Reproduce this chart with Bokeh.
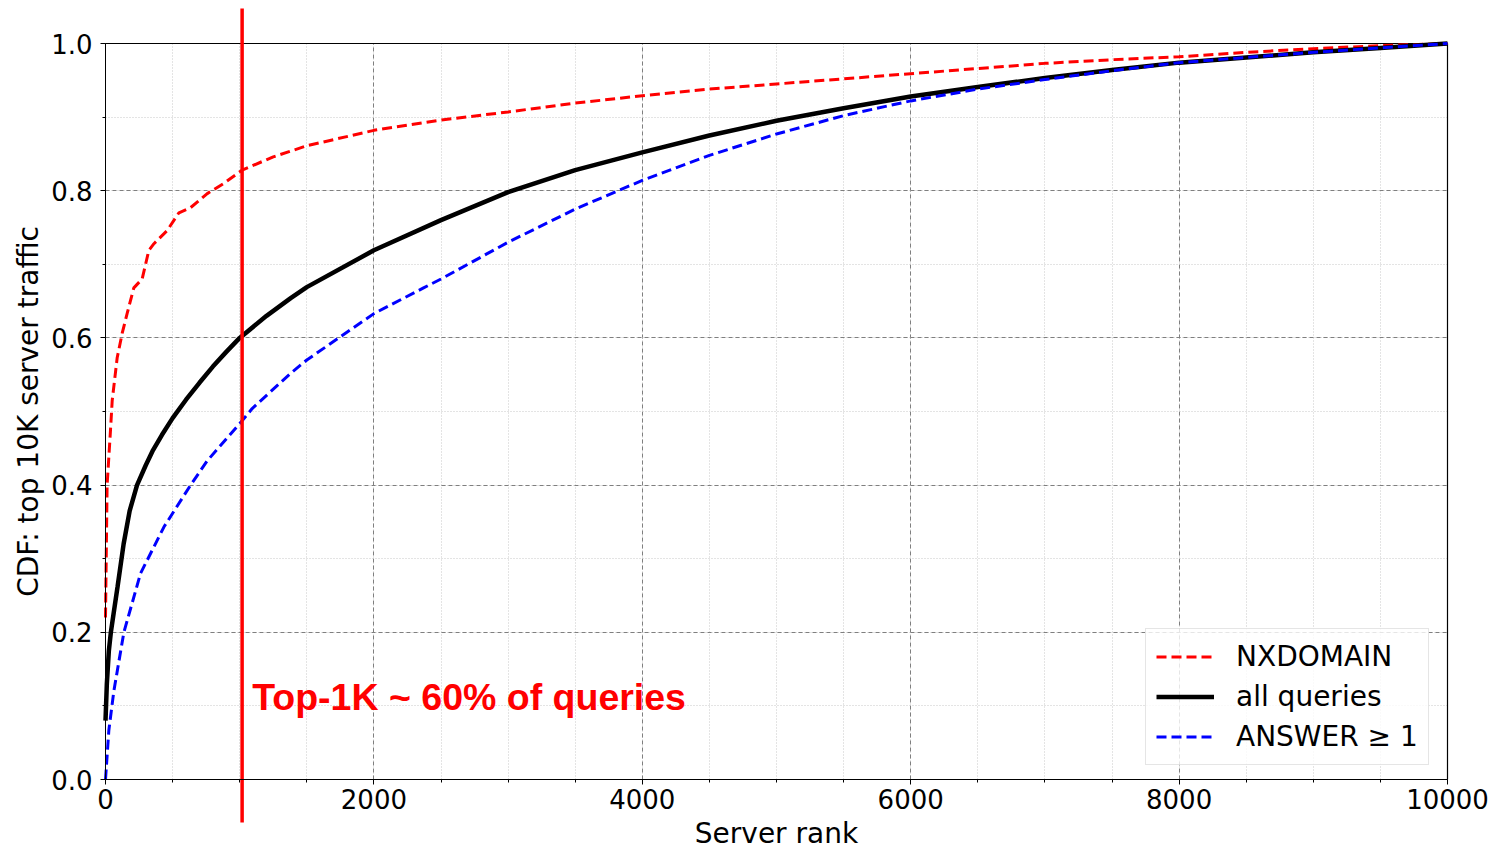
from bokeh.plotting import figure
from bokeh.models import (Range1d, Label, SingleIntervalTicker, PrintfTickFormatter, Legend)
from bokeh.embed import file_html
from bokeh.resources import INLINE

# ---- data ----
nx_rank = [0, 12, 37, 50, 87, 124, 161, 211, 273, 323, 361, 460, 547, 634, 758, 882, 1018,
           1250, 1500, 2000, 2500, 3000, 3500, 4000, 4500, 5000, 5500, 6000, 6500, 7000,
           7500, 8000, 8500, 9000, 9500, 10000]
nx_cdf = [0.22, 0.40, 0.474, 0.515, 0.573, 0.606, 0.633, 0.668, 0.68, 0.719, 0.728, 0.746,
          0.77, 0.777, 0.796, 0.81, 0.828, 0.846, 0.861, 0.882, 0.896, 0.907, 0.919, 0.929,
          0.938, 0.945, 0.952, 0.959, 0.966, 0.973, 0.978, 0.982, 0.988, 0.993, 0.997, 1.0]

all_rank = [0, 10, 25, 40, 60, 90, 135, 180, 235, 300, 350, 420, 500, 600, 700, 800, 900,
            1000, 1200, 1380, 1500, 2000, 2500, 3000, 3500, 4000, 4500, 5000, 5500, 6000,
            6500, 7000, 7500, 8000, 8500, 9000, 9500, 10000]
all_cdf = [0.08, 0.13, 0.175, 0.2, 0.225, 0.262, 0.32, 0.365, 0.40, 0.427, 0.446, 0.468, 0.491,
           0.516, 0.539, 0.561, 0.581, 0.60, 0.63, 0.654, 0.669, 0.719, 0.760, 0.798, 0.828,
           0.852, 0.875, 0.895, 0.912, 0.928, 0.941, 0.953, 0.964, 0.974, 0.981, 0.988,
           0.994, 1.0]

ans_rank = [0, 25, 62, 137, 261, 435, 634, 758, 1021, 1093, 1380, 1500, 2000, 2370, 2500, 3000,
            3500, 4000, 4500, 5000, 5500, 6000, 6500, 7000, 7500, 8000, 8500, 9000, 9500, 10000]
ans_cdf = [0.0, 0.067, 0.12, 0.2, 0.28, 0.343, 0.40, 0.433, 0.488, 0.504, 0.552, 0.57, 0.633,
           0.668, 0.68, 0.73, 0.775, 0.814, 0.848, 0.877, 0.902, 0.922, 0.938, 0.951, 0.963,
           0.974, 0.981, 0.988, 0.994, 1.0]

cutoff_rank = 1018
annotation = "Top-1K ~ 60% of queries"
x_label = "Server rank"
y_label = "CDF: top 10K server traffic"

x_min, x_max = 0, 10000
y_min, y_max = 0.0, 1.0

FONT = "DejaVu Sans"

# The whole canvas is the plotting frame; the axes are pinned at x=0 / y=0 so the
# axes box sits inside it and the cutoff line can stick out of the box.
W, H = 1497, 848
BOX_L, BOX_R, BOX_T, BOX_B = 105, 1447, 43, 779      # axes box in canvas pixels
sx = (BOX_R - BOX_L) / (x_max - x_min)
sy = (BOX_B - BOX_T) / (y_max - y_min)

p = figure(width=W, height=H, output_backend="svg", toolbar_location=None,
           x_range=Range1d(x_min - BOX_L / sx, x_min + (W - BOX_L) / sx),
           y_range=Range1d(y_min - (H - BOX_B) / sy, y_min + BOX_B / sy),
           min_border=0)

p.outline_line_color = None
p.background_fill_color = "white"

# axes
p.xaxis.ticker = SingleIntervalTicker(interval=2000, num_minor_ticks=4)
p.yaxis.ticker = SingleIntervalTicker(interval=0.2, num_minor_ticks=2)
p.yaxis.formatter = PrintfTickFormatter(format="%.1f")
p.xaxis.formatter = PrintfTickFormatter(format="%d")
p.xaxis.fixed_location = y_min
p.yaxis.fixed_location = x_min
p.yaxis.bounds = (y_min, y_max)
p.xaxis.bounds = (x_min, x_max)
for ax in (p.xaxis[0], p.yaxis[0]):
    ax.major_label_text_font = FONT
    ax.major_label_text_font_size = "26px"
    ax.major_label_text_color = "black"
    ax.axis_label_text_font = FONT
    ax.axis_label_text_font_size = "28px"
    ax.axis_label_text_font_style = "normal"
    ax.axis_label_text_color = "black"
    ax.axis_line_color = "black"
    ax.axis_line_width = 1
    ax.major_tick_line_color = "black"
    ax.minor_tick_line_color = "black"
    ax.major_tick_out = 5
    ax.major_tick_in = 0
    ax.minor_tick_out = 3
    ax.minor_tick_in = 0
p.xaxis.axis_label = x_label
p.yaxis.axis_label = y_label
p.xaxis.major_label_standoff = 4
p.xaxis.axis_label_standoff = 5
p.yaxis.major_label_standoff = 8
p.yaxis.axis_label_standoff = 3

# grids, limited to the axes box
for g in (p.xgrid[0], p.ygrid[0]):
    g.grid_line_color = "#7f7f7f"
    g.grid_line_dash = "4 3"
    g.grid_line_width = 1
    g.minor_grid_line_color = "#c8c8c8"
    g.minor_grid_line_dash = "1 2"
    g.minor_grid_line_width = 1
p.xgrid[0].bounds = (x_min, x_max)
p.ygrid[0].bounds = (y_min, y_max)
p.xgrid[0].cross_bounds = (y_min, y_max)
p.ygrid[0].cross_bounds = (x_min, x_max)

# top and right edges of the axes box
p.segment(x0=[x_min, x_max], y0=[y_max, y_min], x1=[x_max, x_max], y1=[y_max, y_max],
          line_color="black", line_width=1.2)

# curves
r_nx = p.line(nx_rank, nx_cdf, line_color="#ff0000", line_width=3, line_dash="10 5")
r_all = p.line(all_rank, all_cdf, line_color="black", line_width=4.5)
r_ans = p.line(ans_rank, ans_cdf, line_color="#0000ff", line_width=3, line_dash="10 5")

# vertical cutoff line, sticking out above and below the axes box
p.segment(x0=[cutoff_rank], y0=[y_min - 43 / sy], x1=[cutoff_rank], y1=[y_max + 35 / sy],
          line_color="#ff0000", line_width=3.5)

p.add_layout(Label(x=1093, y=0.112, text=annotation, text_font="Liberation Sans",
                   text_font_style="bold", text_font_size="37.5px", text_color="#ff0000",
                   text_baseline="alphabetic", text_align="left"))

legend = Legend(items=[("NXDOMAIN", [r_nx]), ("all queries", [r_all]), ("ANSWER \u2265 1", [r_ans])],
                location=(1145, H - 765))
legend.label_text_font = FONT
legend.label_text_font_size = "28px"
legend.label_text_color = "black"
legend.glyph_width = 58
legend.glyph_height = 35
legend.label_height = 35
legend.label_standoff = 22
legend.spacing = 5
legend.padding = 10
legend.margin = 0
legend.border_line_color = "#cccccc"
legend.border_line_width = 1
legend.background_fill_color = "white"
legend.background_fill_alpha = 0.8
p.add_layout(legend)

open("out.html", "w").write(file_html(p, INLINE))
